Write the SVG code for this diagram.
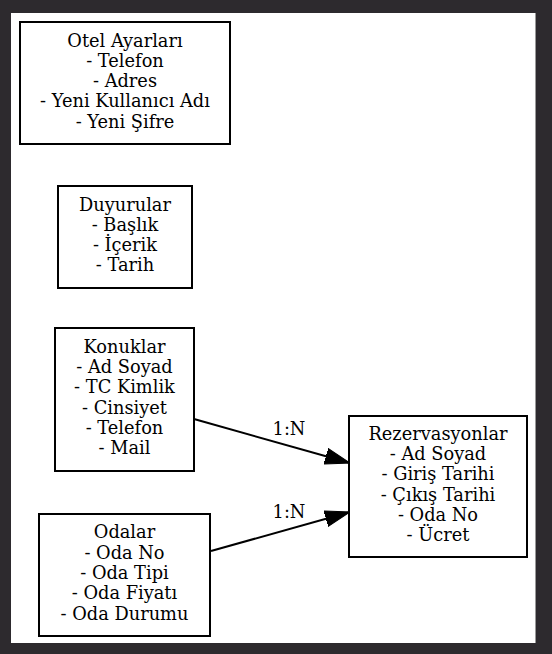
<svg xmlns="http://www.w3.org/2000/svg" width="552" height="654" viewBox="0 0 552 654">
<style>
.box{fill:#ffffff;stroke:#000000;stroke-width:2}
.t{font-family:"DejaVu Serif",serif;font-size:17.8px;fill:#000000;text-anchor:middle}
.edge{stroke:#000000;stroke-width:2;fill:none}
</style>
<defs>
<marker id="arr" markerUnits="userSpaceOnUse" markerWidth="26" markerHeight="18" viewBox="0 0 26 18" refX="25" refY="9" orient="auto">
<path d="M0,1 L25,9 L0,17 Z" fill="#000000" stroke="#000000" stroke-width="1"/>
</marker>
</defs>
<rect x="0" y="0" width="552" height="654" fill="#2d2a2e"/>
<rect x="11" y="13" width="524" height="630" fill="#ffffff"/>
<line x1="535.5" y1="13" x2="535.5" y2="643" stroke="#999999" stroke-width="1"/>
<g id="connectors">
<line class="edge" x1="194" y1="419" x2="350" y2="463" marker-end="url(#arr)"/>
<text class="t" x="289" y="435">1:N</text>
<line class="edge" x1="211" y1="551" x2="350" y2="512" marker-end="url(#arr)"/>
<text class="t" x="289" y="518">1:N</text>
</g>
<g id="otel">
<rect class="box" x="20" y="22" width="210" height="122"/>
<text class="t" x="125"><tspan x="125" y="46.5">Otel Ayarları</tspan><tspan x="125" y="66.8">- Telefon</tspan><tspan x="125" y="87">- Adres</tspan><tspan x="125" y="107.3">- Yeni Kullanıcı Adı</tspan><tspan x="125" y="127.6">- Yeni Şifre</tspan></text>
</g>
<g id="duyurular">
<rect class="box" x="58" y="186" width="134" height="102"/>
<text class="t"><tspan x="125" y="210.5">Duyurular</tspan><tspan x="125" y="230.8">- Başlık</tspan><tspan x="125" y="251.1">- İçerik</tspan><tspan x="125" y="271.4">- Tarih</tspan></text>
</g>
<g id="konuklar">
<rect class="box" x="55" y="328" width="139" height="143"/>
<text class="t"><tspan x="124.5" y="352.8">Konuklar</tspan><tspan x="124.5" y="373.1">- Ad Soyad</tspan><tspan x="124.5" y="393.4">- TC Kimlik</tspan><tspan x="124.5" y="413.7">- Cinsiyet</tspan><tspan x="124.5" y="434">- Telefon</tspan><tspan x="124.5" y="454.3">- Mail</tspan></text>
</g>
<g id="odalar">
<rect class="box" x="39" y="514" width="171" height="122"/>
<text class="t"><tspan x="124.5" y="538.4">Odalar</tspan><tspan x="124.5" y="558.7">- Oda No</tspan><tspan x="124.5" y="579">- Oda Tipi</tspan><tspan x="124.5" y="599.3">- Oda Fiyatı</tspan><tspan x="124.5" y="619.6">- Oda Durumu</tspan></text>
</g>
<g id="rezervasyonlar">
<rect class="box" x="349" y="416" width="178" height="141"/>
<text class="t"><tspan x="438" y="439.8">Rezervasyonlar</tspan><tspan x="438" y="460.1">- Ad Soyad</tspan><tspan x="438" y="480.4">- Giriş Tarihi</tspan><tspan x="438" y="500.7">- Çıkış Tarihi</tspan><tspan x="438" y="521">- Oda No</tspan><tspan x="438" y="541.3">- Ücret</tspan></text>
</g>
</svg>
